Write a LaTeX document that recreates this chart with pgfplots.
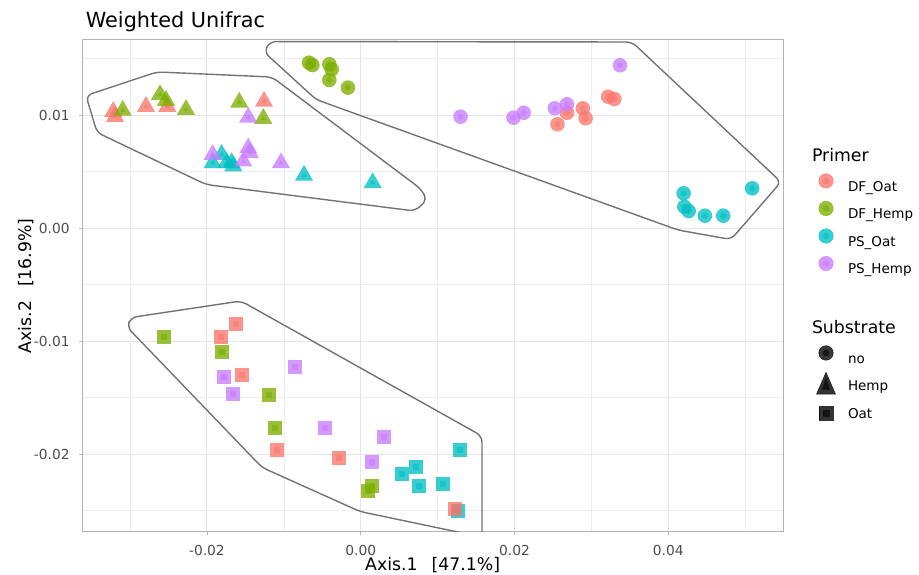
\documentclass[border=0pt]{standalone}
\usepackage{fontspec}
\setmainfont{DejaVu Sans}
\usepackage{pgfplots}
\pgfplotsset{compat=1.18}
\usepackage{pgfplotstable}

\definecolor{c1}{HTML}{F8766D}
\definecolor{c2}{HTML}{7CAE00}
\definecolor{c3}{HTML}{00BFC4}
\definecolor{c4}{HTML}{C77CFF}
\definecolor{gridc}{HTML}{E6E6E6}
\definecolor{framec}{HTML}{B3B3B3}
\definecolor{tickc}{HTML}{4D4D4D}

% circles = substrate "no", triangles = Hemp, squares = Oat
\pgfplotstableread{
x y
0.02559 0.00918
0.02683 0.01020
0.02889 0.01059
0.02925 0.00971
0.03218 0.01162
0.03298 0.01142
}\dfoatno
\pgfplotstableread{
x y
-0.00672 0.01463
-0.00628 0.01442
-0.00408 0.01449
-0.00377 0.01404
-0.00408 0.01310
-0.00166 0.01242
}\dfhempno
\pgfplotstableread{
x y
0.04199 0.00307
0.04208 0.00188
0.04265 0.00150
0.04476 0.00109
0.04714 0.00109
0.05091 0.00351
}\psoatno
\pgfplotstableread{
x y
0.01298 0.00985
0.01987 0.00976
0.02120 0.01020
0.02524 0.01059
0.02683 0.01095
0.03372 0.01440
}\pshempno
\pgfplotstableread{
x y
-0.03217 0.01030
-0.03195 0.00985
-0.02792 0.01075
-0.02515 0.01075
-0.01257 0.01120
}\dfoathemp
\pgfplotstableread{
x y
-0.03095 0.01040
-0.02610 0.01180
-0.02532 0.01128
-0.02272 0.01048
-0.01579 0.01112
-0.01267 0.00968
}\dfhemphemp
\pgfplotstableread{
x y
-0.01808 0.00650
-0.01925 0.00576
-0.01743 0.00576
-0.01678 0.00576
-0.01657 0.00547
-0.00737 0.00465
0.00156 0.00400
}\psoathemp
\pgfplotstableread{
x y
-0.01462 0.00980
-0.01925 0.00650
-0.01462 0.00708
-0.01440 0.00664
-0.01527 0.00591
-0.01036 0.00576
}\pshemphemp
\pgfplotstableread{
x y
-0.01622 -0.00852
-0.01821 -0.00962
-0.01540 -0.01301
-0.01085 -0.01965
-0.00282 -0.02038
0.01226 -0.02487
}\dfoatoat
\pgfplotstableread{
x y
-0.02558 -0.00962
-0.01800 -0.01095
-0.01189 -0.01478
-0.01114 -0.01767
0.00143 -0.02283
0.00099 -0.02325
}\dfhempoat
\pgfplotstableread{
x y
0.01287 -0.01965
0.00533 -0.02180
0.00715 -0.02112
0.00758 -0.02281
0.01066 -0.02265
0.01269 -0.02502
}\psoatoat
\pgfplotstableread{
x y
-0.01774 -0.01316
-0.01665 -0.01469
-0.00858 -0.01227
-0.00464 -0.01767
0.00299 -0.01850
0.00143 -0.02068
}\pshempoat

\pgfplotsset{
  outer/.style={only marks, forget plot, mark options={draw opacity=0, fill=#1, fill opacity=0.78}},
  inner/.style={only marks, forget plot, mark options={draw opacity=0, fill=#1, fill opacity=0.6}},
  hull/.style={forget plot, mark=none, draw=black!55, line width=1.4bp, rounded corners=6bp},
}

% two layers per group, like the original
\newcommand{\grp}[4]{%
  \addplot[outer=#1, mark=#2, mark size=#3] table {#4};
  \addplot[inner=#1, mark=#2, mark size=3bp] table {#4};
}

\newcommand{\legcirc}[1]{\addlegendimage{legend image code/.code={%
  \path[draw=none,fill=none] (-10bp,-4bp) rectangle (10bp,4bp);
  \fill[#1,opacity=0.78,overlay] (0,0) circle (7.3bp);
  \fill[#1,opacity=0.6,overlay] (0,0) circle (3bp);}}}

\begin{document}
\begin{tikzpicture}
\useasboundingbox (0,0) rectangle (919bp,575bp);
\begin{axis}[
  at={(82.3bp,43.3bp)}, anchor=south west,
  scale only axis, width=700.7bp, height=491.7bp,
  xmin=-0.036203, xmax=0.054915, ymin=-0.026876, ymax=0.016637,
  scaled ticks=false,
  xtick={-0.02,0,0.02,0.04}, xticklabels={-0.02,0.00,0.02,0.04},
  ytick={-0.02,-0.01,0,0.01}, yticklabels={-0.02,-0.01,0.00,0.01},
  minor xtick={-0.03,-0.01,0.01,0.03,0.05},
  minor ytick={-0.025,-0.015,-0.005,0.005,0.015},
  grid=both,
  major grid style={gridc, line width=0.9bp},
  minor grid style={gridc!70, line width=0.6bp},
  axis line style={framec, line width=1bp},
  tick pos=left, tick align=outside,
  major tick length=3.5bp, minor tick length=0pt,
  tick style={framec, line width=0.8bp},
  ticklabel style={font=\fontsize{13.8bp}{16bp}\selectfont, text=tickc, inner sep=0pt},
  xticklabel style={anchor=base, yshift=-20bp},
  yticklabel style={anchor=east, xshift=-9bp},
  label style={font=\fontsize{17.3bp}{20bp}\selectfont},
  xlabel={Axis.1\hspace{14bp}[47.1\%]},
  ylabel={Axis.2\hspace{14bp}[16.9\%]},
  xlabel style={at={(axis description cs:0.5,0)}, anchor=base, yshift=-39bp},
  ylabel style={at={(axis description cs:0,0.5)}, anchor=base, yshift=50.6bp},
  legend style={at={(1.0471,0.7795)}, anchor=north west, draw=none, fill=none,
    inner sep=0pt, outer sep=0pt, row sep=11.7bp, column sep=12bp,
    font=\fontsize{13.5bp}{16bp}\selectfont,
    nodes={inner sep=0pt, outer sep=0pt, text height=12.8bp, text depth=3bp}},
  legend cell align=left,
]
% hulls
\addplot[hull] coordinates {(-0.03572,0.01172) (-0.02649,0.01381) (-0.01153,0.01336)
  (0.00784,0.00345) (0.00862,0.00248) (0.00706,0.00150) (-0.02012,0.00385) (-0.03429,0.00845)} --cycle;
\addplot[hull] coordinates {(-0.01257,0.01558) (-0.01179,0.01650) (0.03528,0.01646)
  (0.05465,0.00407) (0.04815,-0.00102) (0.04126,-0.00018) (-0.00581,0.01137)} --cycle;
\addplot[hull] coordinates {(-0.02987,-0.00792) (-0.01557,-0.00646) (0.01577,-0.01841)
  (0.01577,-0.02735) (-0.00009,-0.02509) (-0.01283,-0.02119) (-0.03039,-0.00876)} --cycle;

% points
\grp{c3}{*}{7.3bp}{\psoatno}
\grp{c1}{*}{7.3bp}{\dfoatno}
\grp{c2}{*}{7.3bp}{\dfhempno}
\grp{c4}{*}{7.3bp}{\pshempno}
\grp{c3}{triangle*}{10.5bp}{\psoathemp}
\grp{c1}{triangle*}{10.5bp}{\dfoathemp}
\grp{c2}{triangle*}{10.5bp}{\dfhemphemp}
\grp{c4}{triangle*}{10.5bp}{\pshemphemp}
\grp{c3}{square*}{7bp}{\psoatoat}
\grp{c1}{square*}{7bp}{\dfoatoat}
\grp{c2}{square*}{7bp}{\dfhempoat}
\grp{c4}{square*}{7bp}{\pshempoat}

% legend
\addlegendimage{legend image code/.code={\path[draw=none,fill=none] (-10bp,-10.4bp) rectangle (10bp,7.9bp);}}
\addlegendentry{\fontsize{17.3bp}{20bp}\selectfont\hspace*{-36bp}Primer}
\legcirc{c1}\addlegendentry{DF\_Oat}
\legcirc{c2}\addlegendentry{DF\_Hemp}
\legcirc{c3}\addlegendentry{PS\_Oat}
\legcirc{c4}\addlegendentry{PS\_Hemp}
\addlegendimage{legend image code/.code={\path[draw=none,fill=none] (-10bp,-10.4bp) rectangle (10bp,39.9bp);}}
\addlegendentry{\fontsize{17.3bp}{20bp}\selectfont\hspace*{-36bp}Substrate}
\legcirc{black}\addlegendentry{no}
\addlegendimage{legend image code/.code={%
  \path[draw=none,fill=none] (-10bp,-4bp) rectangle (10bp,4bp);
  \fill[black,opacity=0.8,overlay] (0,8.25bp) -- (-9.53bp,-8.25bp) -- (9.53bp,-8.25bp) -- cycle;
  \fill[black,opacity=0.6,overlay] (0,2.5bp) -- (-3.46bp,-3.5bp) -- (3.46bp,-3.5bp) -- cycle;}}
\addlegendentry{Hemp}
\addlegendimage{legend image code/.code={%
  \path[draw=none,fill=none] (-10bp,-4bp) rectangle (10bp,4bp);
  \fill[black,opacity=0.8,overlay] (-6.8bp,-6.8bp) rectangle (6.8bp,6.8bp);
  \fill[black,opacity=0.6,overlay] (-2.8bp,-2.8bp) rectangle (2.8bp,2.8bp);}}
\addlegendentry{Oat}
\end{axis}
\node[anchor=base west, font=\fontsize{20.8bp}{24bp}\selectfont] at (82.3bp,547.7bp) {Weighted Unifrac};
\end{tikzpicture}
\end{document}
